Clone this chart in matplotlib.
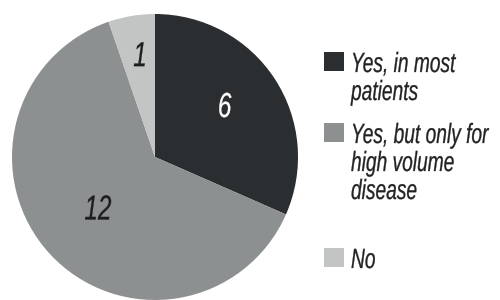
import matplotlib
matplotlib.use("Agg")
import matplotlib.pyplot as plt
import matplotlib.patheffects as pe
from matplotlib.patches import Rectangle
from matplotlib.transforms import Affine2D
import numpy as np

labels = ["Yes, in most\npatients", "Yes, but only for\nhigh volume\ndisease", "No"]
values = [6, 12, 1]
colors = ["#2b2e31", "#8d9091", "#c3c5c5"]

plt.rcParams['font.family'] = ['Liberation Sans', 'DejaVu Sans']


class Condense(pe.AbstractPathEffect):
    """squeeze glyphs horizontally (no narrow font installed)"""
    def __init__(self, sx, center=False, weight=0.0):
        super().__init__()
        self.sx = sx
        self.center = center
        self.weight = weight

    def draw_path(self, renderer, gc, tpath, affine, rgbFace=None):
        t = Affine2D()
        if self.center and len(tpath.vertices):
            c = (tpath.vertices[:, 0].min() + tpath.vertices[:, 0].max()) / 2
            t = t.translate(-c, 0).scale(self.sx, 1).translate(c, 0)
        else:
            t = t.scale(self.sx, 1)
        gc0 = renderer.new_gc()
        gc0.copy_properties(gc)
        if self.weight and rgbFace is not None:
            gc0.set_foreground(rgbFace)
            gc0.set_linewidth(self.weight)
            gc0.set_joinstyle("round")
        renderer.draw_path(gc0, tpath, t + affine, rgbFace)
        gc0.restore()


fig = plt.figure(figsize=(5, 3), dpi=100)
ax = fig.add_axes([0, 0, 1, 1])
r_px = 143.0
cx, cy = 155.0, 143.0

wedges, _ = ax.pie(values, colors=colors, startangle=90, counterclock=False,
                   radius=1.0, center=(0, 0), frame=True,
                   wedgeprops=dict(linewidth=0))
ax.set_xlim(-cx / r_px, (500 - cx) / r_px)
ax.set_ylim(-cy / r_px, (300 - cy) / r_px)
ax.axis("off")

# value labels: (angle deg, radius fraction) of glyph centre
label_pos = [(37, 0.61), (-138.7, 0.53), (98, 0.73)]
text_cols = ["white", "#1e1e1e", "#1e1e1e"]
for v, (ang, rr), tc in zip(values, label_pos, text_cols):
    a = np.deg2rad(ang)
    ax.text(rr * np.cos(a), rr * np.sin(a) - 12.5 / r_px, str(v),
            ha="center", va="baseline", fontsize=25, style="italic", color=tc,
            path_effects=[Condense(0.7, center=True, weight=0.2)])

# legend
tops = [52, 123, 248]
for w, lab, t in zip(wedges, labels, tops):
    fig.patches.append(Rectangle((324 / 500, 1 - (t + 18.5) / 300), 20 / 500, 18.5 / 300,
                                 transform=fig.transFigure, facecolor=w.get_facecolor(),
                                 edgecolor="none"))
    fig.text(351 / 500, 1 - t / 300, lab, ha="left", va="top",
             fontsize=20, style="italic", color="#222222", linespacing=1.1,
             path_effects=[Condense(0.69, weight=0.2)])

fig.savefig("out.png", dpi=100)
